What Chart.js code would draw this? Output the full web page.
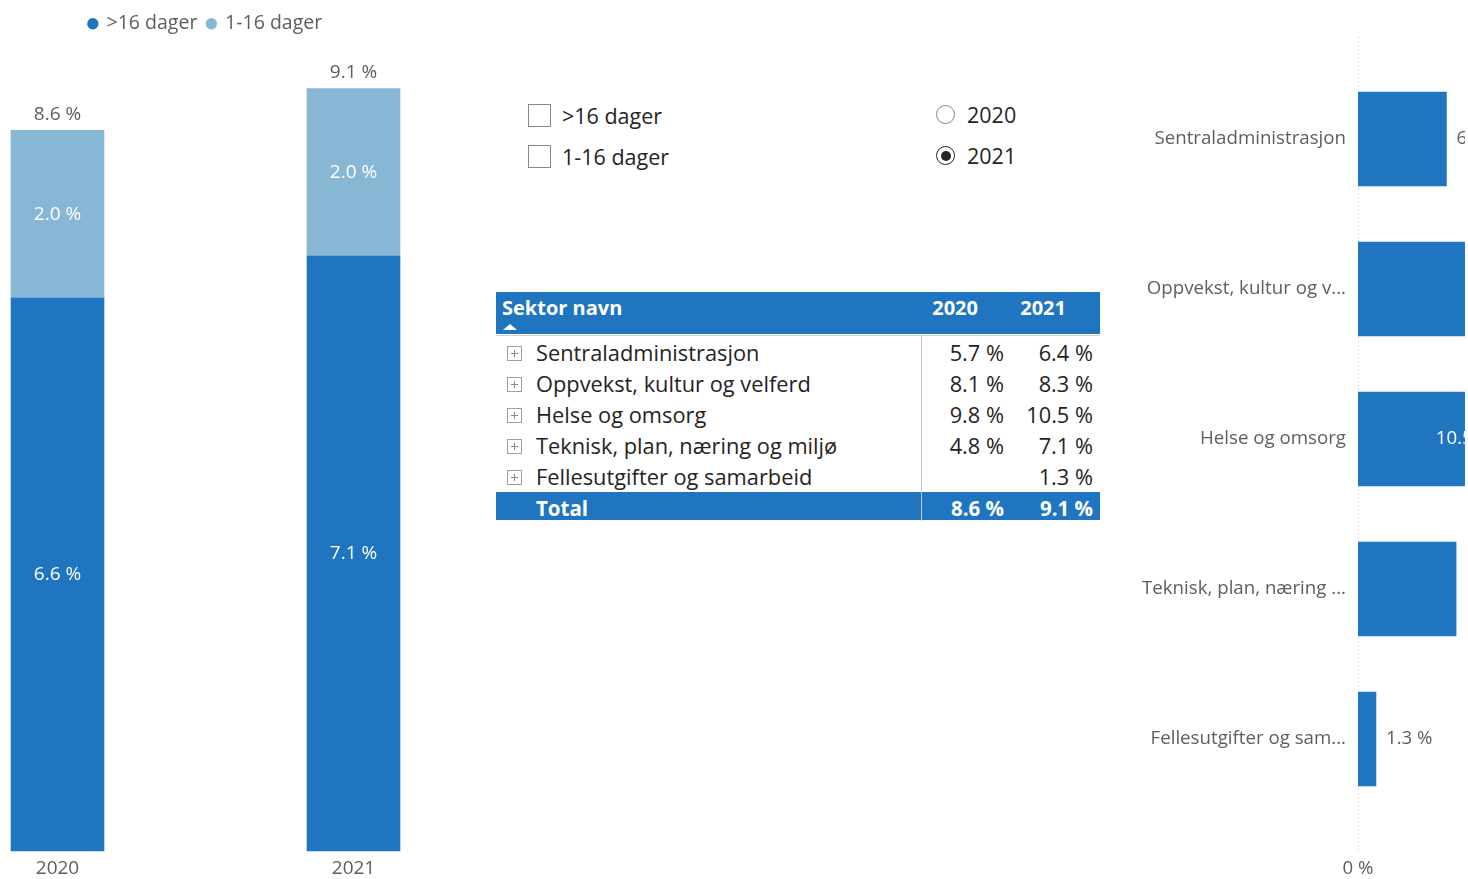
<!DOCTYPE html>
<html lang="no">
<head>
<meta charset="utf-8">
<title>Sykefravær</title>
<script src="https://cdn.jsdelivr.net/npm/chart.js@4.4.1/dist/chart.umd.min.js"></script>
<style>
  html, body { margin: 0; padding: 0; width: 1468px; height: 879px; overflow: hidden; background: #fff; }
  body { position: relative; font-family: "Open Sans", "Noto Sans", sans-serif; color: #252423; }
  #yearChart { position: absolute; left: 0; top: 0; }
  #sectorWrap { position: absolute; left: 1130px; top: 0; width: 335px; height: 879px; overflow: hidden; }
  #sectorChart { position: absolute; left: 0; top: 0; }

  .slicer { position: absolute; font-size: 21.5px; }
  .slicer .opt { position: absolute; left: 0; height: 28px; line-height: 28px; white-space: nowrap; }
  .box { position: absolute; left: 0; top: 2px; width: 21px; height: 21px; border: 1px solid #8a8886; }
  .radio { position: absolute; left: 0; top: 4px; width: 17px; height: 17px; border: 1px solid #8a8886; border-radius: 50%; }
  .radio.on { border-color: #252423; }
  .radio.on::after { content: ""; position: absolute; left: 3.5px; top: 3.5px; width: 10px; height: 10px; border-radius: 50%; background: #252423; }

  #matrix { position: absolute; left: 496px; top: 292px; width: 604px; }
  .row { position: absolute; left: 0; width: 604px; display: flex; white-space: nowrap; }
  .row .c1 { width: 425px; position: relative; box-sizing: border-box; padding-left: 40px; }
  .row .c2 { width: 89px; text-align: right; box-sizing: border-box; padding-right: 6px; }
  .row .c3 { width: 90px; text-align: right; box-sizing: border-box; padding-right: 7px; }
  .head { top: 0; height: 42px; background: #1f75c0; color: #fff; font-weight: 700; font-size: 20px; line-height: 32px; }
  .head .c1 { padding-left: 6px; }
  .head .c2 { padding-right: 32px; }
  .head .c3 { padding-right: 34px; }
  .sort { position: absolute; left: 7px; top: 32px; width: 0; height: 0; border-left: 7px solid transparent; border-right: 7px solid transparent; border-bottom: 6px solid #fff; }
  .body { height: 31px; line-height: 31px; font-size: 21.8px; color: #252423; }
  .plus { position: absolute; left: 11px; top: 9px; width: 13px; height: 13px; border: 1px solid #a19f9d; }
  .plus::before { content: ""; position: absolute; left: 3px; top: 6px; width: 7px; height: 1px; background: #8a8886; }
  .plus::after { content: ""; position: absolute; left: 6px; top: 3px; width: 1px; height: 7px; background: #8a8886; }
  .total { height: 28px; line-height: 32px; background: #1f75c0; color: #fff; font-weight: 700; font-size: 20.5px; }
  .hline { position: absolute; left: 0; top: 43px; width: 604px; height: 1px; background: #d2d0ce; }
  .vline { position: absolute; left: 425px; top: 44px; width: 1px; height: 185px; background: #c8c6c4; }
</style>
</head>
<body>
<canvas id="yearChart" width="406" height="879"></canvas>
<div id="slicerType" class="slicer" style="left:528px; top:102px;"></div>
<div id="slicerYear" class="slicer" style="left:936px; top:101px;"></div>
<div id="matrix"></div>
<div id="sectorWrap"><canvas id="sectorChart" width="430" height="879"></canvas></div>

<script>
// fraværstyper og år
const seriesNames = ['>16 dager', '1-16 dager'];
const years = ['2020', '2021'];
const selectedYear = '2021';

// fravær per år, fordelt på type
const over16 = [6.6, 7.1];
const under16 = [2.0, 2.0];
const totals = [8.6, 9.1];

// fravær per sektor
const sectors = [
    'Sentraladministrasjon',
    'Oppvekst, kultur og velferd',
    'Helse og omsorg',
    'Teknisk, plan, næring og miljø',
    'Fellesutgifter og samarbeid'
];
const sector2020 = [5.7, 8.1, 9.8, 4.8, null];
const sector2021 = [6.4, 8.3, 10.5, 7.1, 1.3];

// akse for sektordiagrammet
const sectorAxisMax = 14;
const sectorTickStep = 10;

const DARK = '#1f75c0';
const LIGHT = '#88b7d6';
const GREY = '#605e5c';
const FONT = '"Open Sans", "Noto Sans", sans-serif';
const LABEL_SIZE = 19;
const SECTOR_SIZE = 18.7;

const pct = v => `${v.toFixed(1)} %`;

// verdier midt i hvert segment + sum over stabelen
const stackLabels = {
    id: 'stackLabels',
    afterDatasetsDraw(chart) {
        const ctx = chart.ctx;
        ctx.save();
        ctx.font = `${LABEL_SIZE}px ${FONT}`;
        ctx.textAlign = 'center';
        ctx.textBaseline = 'middle';
        chart.data.datasets.forEach((ds, i) => {
            chart.getDatasetMeta(i).data.forEach((bar, j) => {
                ctx.fillStyle = '#fff';
                ctx.fillText(pct(ds.data[j]), bar.x, (bar.y + bar.base) / 2);
            });
        });
        const last = chart.getDatasetMeta(chart.data.datasets.length - 1).data;
        last.forEach((bar, j) => {
            ctx.fillStyle = GREY;
            ctx.fillText(pct(totals[j]), bar.x, bar.y - 16);
        });
        ctx.restore();
    }
};

// mer luft mellom tegnforklaring og søyler
const legendGap = {
    id: 'legendGap',
    beforeInit(chart) {
        const fit = chart.legend.fit;
        chart.legend.fit = function () {
            fit.call(this);
            this.height += 45;
        };
    }
};

new Chart(document.getElementById('yearChart'), {
    type: 'bar',
    data: {
        labels: years,
        datasets: [
            { label: seriesNames[0], data: over16, backgroundColor: DARK, barThickness: 93, clip: false },
            { label: seriesNames[1], data: under16, backgroundColor: LIGHT, barThickness: 93, clip: false }
        ]
    },
    options: {
        responsive: false,
        animation: false,
        layout: { padding: { left: 57.5, right: 52.5, top: 4 } },
        scales: {
            x: {
                stacked: true,
                offset: false,
                grid: { display: false, drawTicks: false },
                border: { display: false },
                ticks: { color: GREY, font: { family: FONT, size: LABEL_SIZE }, padding: 6, maxRotation: 0 },
                afterFit: s => { s.height = 28; }
            },
            y: { stacked: true, display: false, min: 0, max: Math.max(...totals) }
        },
        plugins: {
            legend: {
                position: 'top',
                labels: {
                    usePointStyle: true,
                    pointStyle: 'circle',
                    boxWidth: 8,
                    boxHeight: 8,
                    padding: 10,
                    color: GREY,
                    font: { family: FONT, size: 19.5 }
                }
            },
            tooltip: { enabled: false }
        }
    },
    plugins: [stackLabels, legendGap]
});

// slicere
const slicerType = document.getElementById('slicerType');
seriesNames.forEach((name, i) => {
    const opt = document.createElement('div');
    opt.className = 'opt';
    opt.style.top = `${i * 41}px`;
    opt.innerHTML = `<span class="box"></span><span style="margin-left:34px">${name.replace('>', '&gt;')}</span>`;
    slicerType.appendChild(opt);
});
const slicerYear = document.getElementById('slicerYear');
years.forEach((year, i) => {
    const opt = document.createElement('div');
    opt.className = 'opt';
    opt.style.top = `${i * 41}px`;
    const on = year === selectedYear ? ' on' : '';
    opt.innerHTML = `<span class="radio${on}"></span><span style="margin-left:31px">${year}</span>`;
    slicerYear.appendChild(opt);
});

// matrise
const matrix = document.getElementById('matrix');
const cell = v => (v == null ? '' : pct(v));
let html = `<div class="row head"><div class="c1">Sektor navn<span class="sort"></span></div>` +
    `<div class="c2">${years[0]}</div><div class="c3">${years[1]}</div></div>`;
html += '<div class="hline"></div>';
sectors.forEach((name, i) => {
    html += `<div class="row body" style="top:${45 + i * 31}px"><div class="c1"><span class="plus"></span>${name}</div>` +
        `<div class="c2">${cell(sector2020[i])}</div><div class="c3">${cell(sector2021[i])}</div></div>`;
});
html += `<div class="row total" style="top:200px"><div class="c1">Total</div>` +
    `<div class="c2">${pct(totals[0])}</div><div class="c3">${pct(totals[1])}</div></div>`;
html += '<div class="vline"></div>';
matrix.innerHTML = html;

// sektordiagram: kort ned lange etiketter
const measureCtx = document.createElement('canvas').getContext('2d');
measureCtx.font = `${SECTOR_SIZE}px ${FONT}`;
function shorten(text, maxWidth) {
    if (measureCtx.measureText(text).width <= maxWidth) return text;
    let t = text;
    while (t.length > 1 && measureCtx.measureText(t + '...').width > maxWidth) t = t.slice(0, -1);
    return t + '...';
}

// stiplet nullinje
const zeroLine = {
    id: 'zeroLine',
    beforeDatasetsDraw(chart) {
        const { ctx, chartArea } = chart;
        const x = Math.round(chart.scales.x.getPixelForValue(0)) + 0.5;
        ctx.save();
        ctx.strokeStyle = '#c8c6c4';
        ctx.lineWidth = 1;
        ctx.setLineDash([1, 3]);
        ctx.beginPath();
        ctx.moveTo(x, chartArea.top - 27);
        ctx.lineTo(x, chartArea.bottom + 36);
        ctx.stroke();
        ctx.restore();
    }
};

// verdietiketter utenfor søylen, eller innenfor når det ikke er plass
const barValues = {
    id: 'barValues',
    afterDatasetsDraw(chart) {
        const { ctx, chartArea } = chart;
        ctx.save();
        ctx.font = `${SECTOR_SIZE}px ${FONT}`;
        ctx.textBaseline = 'middle';
        const ds = chart.data.datasets[0];
        chart.getDatasetMeta(0).data.forEach((bar, i) => {
            const txt = pct(ds.data[i]);
            const w = ctx.measureText(txt).width;
            if (bar.x + 10 + w <= chartArea.right) {
                ctx.fillStyle = GREY;
                ctx.textAlign = 'left';
                ctx.fillText(txt, bar.x + 10, bar.y);
            } else {
                ctx.fillStyle = '#fff';
                ctx.textAlign = 'right';
                ctx.fillText(txt, bar.x - 10, bar.y);
            }
        });
        ctx.restore();
    }
};

new Chart(document.getElementById('sectorChart'), {
    type: 'bar',
    data: {
        labels: sectors,
        datasets: [{ label: selectedYear, data: sector2021, backgroundColor: DARK, barThickness: 94 }]
    },
    options: {
        indexAxis: 'y',
        responsive: false,
        animation: false,
        layout: { padding: { top: 64, left: 0, right: 0 } },
        scales: {
            x: {
                min: 0,
                max: sectorAxisMax,
                grid: { display: false, drawTicks: false },
                border: { display: false },
                ticks: {
                    stepSize: sectorTickStep,
                    padding: 43,
                    color: GREY,
                    font: { family: FONT, size: SECTOR_SIZE },
                    callback: v => `${v} %`
                },
                afterBuildTicks: s => { s.ticks = s.ticks.filter(t => t.value % sectorTickStep === 0); },
                afterFit: s => { s.height = 65; }
            },
            y: {
                grid: { display: false, drawTicks: false },
                border: { display: false },
                ticks: {
                    padding: 12,
                    color: GREY,
                    font: { family: FONT, size: SECTOR_SIZE },
                    callback(v) { return shorten(this.getLabelForValue(v), 205); }
                },
                afterFit: s => { s.width = 228; }
            }
        },
        plugins: { legend: { display: false }, tooltip: { enabled: false } }
    },
    plugins: [zeroLine, barValues]
});
</script>
</body>
</html>
